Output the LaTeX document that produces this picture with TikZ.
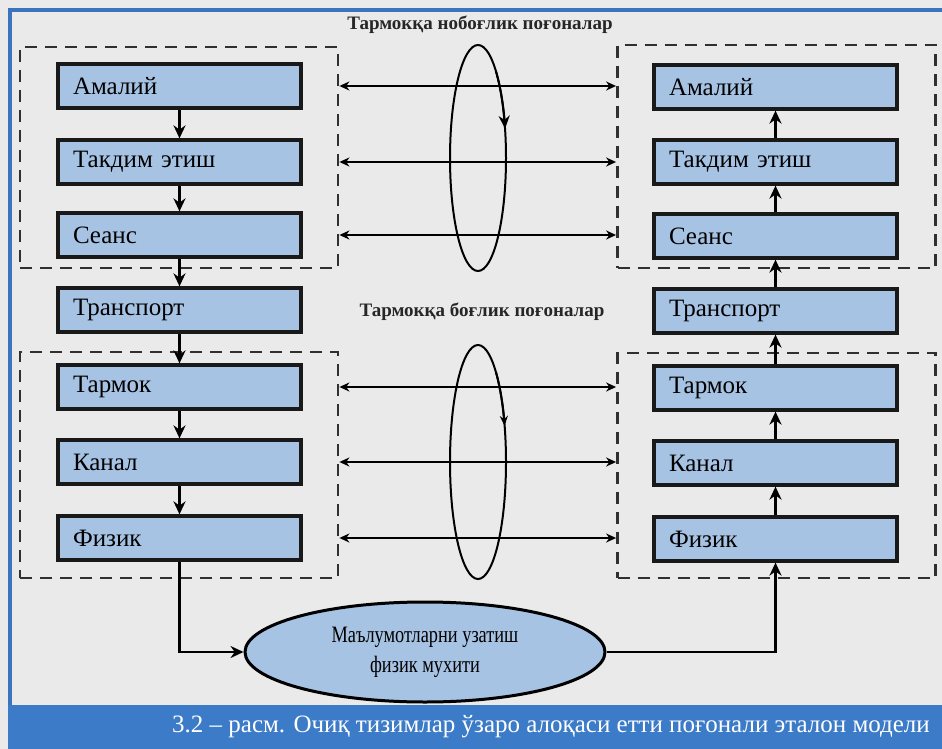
\documentclass[tikz,border=0pt]{standalone}
\usepackage{fontspec}
\setmainfont{Liberation Serif}
\newfontfamily\ellfont[FakeStretch=0.78]{Liberation Serif}
\usetikzlibrary{arrows.meta,shapes.geometric}
\definecolor{bg}{HTML}{EAEAEA}
\definecolor{boxblue}{HTML}{A7C3E4}
\definecolor{frameblue}{HTML}{3B73BE}
\definecolor{capblue}{HTML}{3C7BC8}
\definecolor{dashgray}{HTML}{303030}
\begin{document}
\begin{tikzpicture}[x=1pt,y=-1pt,
  layer/.style={draw=black!90, line width=3.2pt, fill=boxblue, minimum width=243pt, minimum height=44pt, text width=213pt, inner xsep=15pt, inner ysep=0pt, align=left, font=\fontsize{25}{28}\selectfont},
  group/.style={draw=dashgray, line width=2.8pt, dash pattern=on 12pt off 8pt, minimum width=318pt},
  flow/.style={line width=2.4pt, -{Stealth[length=13pt,width=12pt]}},
  peer/.style={line width=2.4pt, {Stealth[length=10pt,width=9pt]}-{Stealth[length=10pt,width=9pt]}},
  loopline/.style={line width=2pt},
  lbl/.style={font=\bfseries\fontsize{19}{21}\selectfont, text=black!85},
]
\useasboundingbox (0,0) rectangle (942,749);
\fill[bg] (0,0) rectangle (942,749);
\draw[frameblue, line width=3.5pt] (10,705) -- (10,10) -- (942,10);
\fill[capblue] (8.25,705) rectangle (942,749);

% dashed group frames
\node[group, minimum height=221pt] (FL1) at (179,157.5) {};
\node[group, minimum height=226pt] (FL2) at (179,465) {};
\node[group, minimum height=223pt] (FR1) at (776.5,156.5) {};
\node[group, minimum height=225pt] (FR2) at (776.5,465.5) {};

% loops
\draw[loopline] (478,158) ellipse [x radius=28pt, y radius=113pt];
\draw[loopline, -{Stealth[length=13pt,width=11pt]}] (478,158) ++(50:28pt and 113pt) arc[start angle=50, end angle=15, x radius=28pt, y radius=113pt];
\draw[loopline] (478,462) ellipse [x radius=28pt, y radius=117pt];
\draw[loopline, -{Stealth[length=10pt,width=8pt]}] (478,462) ++(50:28pt and 117pt) arc[start angle=50, end angle=18, x radius=28pt, y radius=117pt];

% left stack
\node[layer] (L1) at (179.5,86) {Амалий};
\node[layer] (L2) at (179.5,162) {Такдим этиш};
\node[layer] (L3) at (179.5,235) {Сеанс};
\node[layer] (L4) at (179.5,310) {Транспорт};
\node[layer] (L5) at (179.5,387) {Тармок};
\node[layer] (L6) at (179.5,462) {Канал};
\node[layer] (L7) at (179.5,538) {Физик};
% right stack
\node[layer] (R1) at (775.5,87) {Амалий};
\node[layer] (R2) at (775.5,162) {Такдим этиш};
\node[layer] (R3) at (775.5,236) {Сеанс};
\node[layer] (R4) at (775.5,311) {Транспорт};
\node[layer] (R5) at (775.5,388) {Тармок};
\node[layer] (R6) at (775.5,463) {Канал};
\node[layer] (R7) at (775.5,539) {Физик};

\foreach \a/\b in {L1/L2,L2/L3,L3/L4,L4/L5,L5/L6,L6/L7}
  \draw[flow] (\a) -- (\b);
\foreach \a/\b in {R7/R6,R6/R5,R5/R4,R4/R3,R3/R2,R2/R1}
  \draw[flow] (\a) -- (\b);

% peer arrows
\draw[peer] (FL1.east |- L1) -- (FR1.west |- L1);
\draw[peer] (FL1.east |- L2) -- (FR1.west |- L2);
\draw[peer] (FL1.east |- L3) -- (FR1.west |- L3);
\draw[peer] (FL2.east |- L5) -- (FR2.west |- L5);
\draw[peer] (FL2.east |- L6) -- (FR2.west |- L6);
\draw[peer] (FL2.east |- L7) -- (FR2.west |- L7);

% labels
\node[lbl] (tl) at (480,25) {Тармокқа нобоғлик поғоналар};
\node[lbl] (ml) at (482,312) {Тармокқа боғлик поғоналар};

% physical medium
\node[ellipse, draw=black, line width=3pt, fill=boxblue, minimum width=360pt, minimum height=100pt, align=center, font=\ellfont\fontsize{23.5}{30}\selectfont] (M) at (425,652) {Маълумотларни узатиш\\физик мухити};
\draw[flow] (L7.south) |- (M.west);
\draw[flow] (M.east) -| (R7.south);

% caption
\node[anchor=east, text=white, font=\fontsize{25}{27}\selectfont, inner sep=0pt] (cap) at (930,727) {3.2 – расм. Очиқ тизимлар ўзаро алоқаси етти поғонали эталон модели};
\end{tikzpicture}
\end{document}
